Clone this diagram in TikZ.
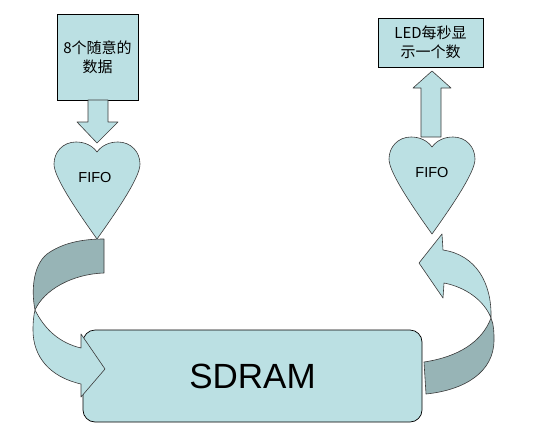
\documentclass[tikz,border=0pt]{standalone}
\usepackage{fontspec}
\setmainfont{Liberation Sans}
\newfontfamily\cjk{Noto Sans CJK SC}
\usetikzlibrary{calc}
\definecolor{pptteal}{HTML}{BBE0E3}
\definecolor{pptshade}{HTML}{97B4B6}
\definecolor{pptline}{HTML}{3A3A3A}
\tikzset{
  box/.style={draw=black, fill=pptteal, line width=0.7pt, align=center, inner sep=0pt, font=\cjk\fontsize{15}{19}\selectfont},
  light/.style={draw=pptline, fill=pptteal, line width=0.6pt, line join=round},
  shade/.style={draw=pptline, fill=pptshade, line width=0.6pt, line join=round},
  label/.style={font=\fontsize{14.5}{16}\selectfont, inner sep=0pt},
  heart/.pic={
    \draw[light] (0,0) .. controls (5,-7) and (13,-10) .. (21,-10)
      .. controls (34,-10) and (43,0) .. (43,12)
      .. controls (43,24) and (25,52) .. (0,87)
      .. controls (-25,52) and (-43,24) .. (-43,12)
      .. controls (-43,0) and (-34,-10) .. (-21,-10)
      .. controls (-13,-10) and (-5,-7) .. (0,0) -- cycle;
  }
}
\begin{document}
\begin{tikzpicture}[x=1pt, y=-1pt]
  \useasboundingbox (0,0) rectangle (540,439);
  % boxes
  \node[box, minimum width=81pt, minimum height=86pt] (rand) at (97.5,57) {8个随意的\\数据};
  \node[box, minimum width=105pt, minimum height=49pt] (led) at (430.5,42.5) {LED每秒显\\示一个数};
  \node[box, rounded corners=12pt, minimum width=339pt, minimum height=92pt,
        font=\fontsize{35}{40}\selectfont] (sdram) at (252.5,376) {SDRAM};
  % straight arrows
  \draw[light] (88,100) -- (88,122) -- (77,122) -- (97,143) -- (118,122) -- (108,122) -- (108,100) -- cycle;
  \draw[light] (421,137) -- (421,88) -- (413,88) -- (432,71) -- (451,88) -- (441,88) -- (441,137) -- cycle;
  % fifo hearts
  \pic at (97,152) {heart};
  \pic at (432,147) {heart};
  \node[label] (fifoL) at (95,178) {FIFO};
  \node[label] (fifoR) at (432,173) {FIFO};
  % curved arrow into sdram
  \draw[light] (35,310) .. controls (45,330) and (60,343) .. (81,348) -- (81,334) -- (105,369)
    -- (81,397) -- (81,384) .. controls (50,377) and (33,357) .. (33,330)
    .. controls (33,320) and (34,314) .. (35,310) -- cycle;
  \draw[shade] (104,239) -- (104,273) .. controls (72,274) and (44,290) .. (35,310)
    .. controls (31,290) and (33,262) .. (50,252) .. controls (64,243) and (82,239) .. (104,239) -- cycle;
  % curved arrow out of sdram
  \draw[light] (491,318) .. controls (484,300) and (465,287) .. (444,283) -- (443,298) -- (419,263)
    -- (442,234) -- (443,250) .. controls (476,255) and (492,283) .. (491,318) -- cycle;
  \draw[shade] (424,362) .. controls (458,357) and (482,342) .. (491,318)
    .. controls (494,325) and (494,333) .. (494,340)
    .. controls (494,372) and (465,390) .. (426,394) -- cycle;
\end{tikzpicture}
\end{document}
